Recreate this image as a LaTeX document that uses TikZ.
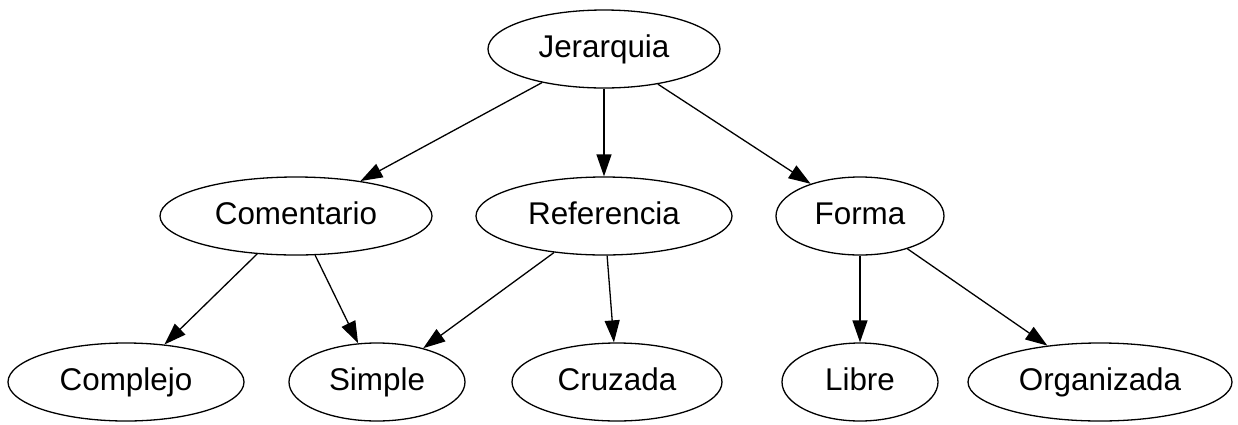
\documentclass[tikz,border=0pt]{standalone}
\usepackage{fontspec}
\setmainfont{Liberation Sans}
\usetikzlibrary{shapes.geometric,arrows.meta}
\begin{document}
\begin{tikzpicture}[x=0.5pt,y=-0.5pt,
  box/.style={ellipse,draw,line width=0.65pt,inner sep=0pt,minimum height=39pt,text height=11.5pt,text depth=3pt,font=\fontsize{15.7}{18}\selectfont},
  arr/.style={-{Triangle[length=11pt,width=7.5pt]},line width=0.65pt}]
\useasboundingbox (0,0) rectangle (1238,424);
\node[box,minimum width=116pt] (J) at (604,49) {Jerarquia};
\node[box,minimum width=136pt] (C) at (296,216) {Comentario};
\node[box,minimum width=128pt] (R) at (604,216) {Referencia};
\node[box,minimum width=84pt] (F) at (860,216) {Forma};
\node[box,minimum width=118pt] (Cx) at (126,382) {Complejo};
\node[box,minimum width=88pt] (S) at (377,382) {Simple};
\node[box,minimum width=105pt] (Cr) at (617,382) {Cruzada};
\node[box,minimum width=78pt] (L) at (860,382) {Libre};
\node[box,minimum width=132pt] (O) at (1100,382) {Organizada};
\draw[arr] (J) -- (C);
\draw[arr] (J) -- (R);
\draw[arr] (J) -- (F);
\draw[arr] (C) -- (Cx);
\draw[arr] (C) -- (S);
\draw[arr] (R) -- (S);
\draw[arr] (R) -- (Cr);
\draw[arr] (F) -- (L);
\draw[arr] (F) -- (O);
\end{tikzpicture}
\end{document}
